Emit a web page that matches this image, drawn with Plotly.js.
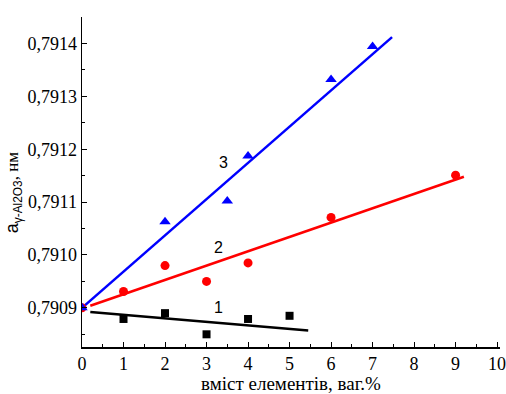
<!DOCTYPE html>
<html><head><meta charset="utf-8">
<script src="https://cdn.plot.ly/plotly-3.0.1.min.js"></script>
<style>html,body{margin:0;padding:0;background:#fff;}#chart{width:506px;height:394px;}</style>
</head><body><div id="chart"></div>
<script>
// Data points
const x1 = [1, 2, 3, 4, 5];
const y1 = [0.790879, 0.790890, 0.790850, 0.790879, 0.790885];
const x2 = [0, 1, 2, 3, 4, 6, 9];
const y2 = [0.79090, 0.790931, 0.790980, 0.790950, 0.790985, 0.791071, 0.791151];
const x3 = [0, 2, 3.5, 4, 6, 7];
const y3 = [0.79090, 0.791063, 0.791102, 0.791187, 0.791332, 0.791394];
// Fit lines (end points)
const fx1 = [0.2, 5.45], fy1 = [0.790892, 0.790857];
const fx2 = [0.2, 9.2],  fy2 = [0.790904, 0.791148];
const fx3 = [0, 7.47],   fy3 = [0.79090, 0.791412];
// Curve labels
const labX = [3.3, 3.3, 3.4];
const labY = [0.790900, 0.791014, 0.791175];
const labText = ['1', '2', '3'];

const SERIF = 'Liberation Serif';
const SANS = 'Liberation Sans';

const traces = [
  {x: fx1, y: fy1, mode: 'lines', line: {color: '#000000', width: 2.5}, hoverinfo: 'skip'},
  {x: fx2, y: fy2, mode: 'lines', line: {color: '#ff0000', width: 2.5}, hoverinfo: 'skip'},
  {x: fx3, y: fy3, mode: 'lines', line: {color: '#0000ff', width: 2.5}, hoverinfo: 'skip'},
  {x: x1, y: y1, mode: 'markers', marker: {symbol: 'square', size: 8, color: '#000000'}},
  {x: x2, y: y2, mode: 'markers', marker: {symbol: 'circle', size: 9, color: '#ff0000'}},
  {x: x3, y: y3, mode: 'markers', marker: {symbol: 'triangle-up', size: 10, color: '#0000ff'}}
];

const annotations = labText.map((t, i) => ({
  x: labX[i], y: labY[i], text: t, showarrow: false, xref: 'x', yref: 'y',
  font: {family: SANS, size: 16, color: '#000'}
}));

const layout = {
  width: 506, height: 394,
  margin: {l: 82, r: 6, t: 17, b: 47},
  showlegend: false,
  font: {family: SERIF, size: 18, color: '#000'},
  paper_bgcolor: '#fff', plot_bgcolor: '#fff',
  separators: ', ',
  annotations: annotations,
  xaxis: {
    range: [0, 10.07], showgrid: false, zeroline: false,
    showline: true, linecolor: '#000', linewidth: 1.5, mirror: false,
    tickmode: 'linear', tick0: 0, dtick: 1,
    ticks: 'inside', ticklen: 5, tickcolor: '#000', tickwidth: 1,
    ticklabeloverflow: 'allow', automargin: false,
    minor: {dtick: 0.5, ticks: 'inside', ticklen: 3, tickcolor: '#000', showgrid: false},
    tickfont: {family: SERIF, size: 18, color: '#000'},
    title: {text: 'вміст елементів, ваг.%', standoff: 11,
      font: {family: SERIF, size: 19, color: '#000'}}
  },
  yaxis: {
    range: [0.790826, 0.79145], showgrid: false, zeroline: false,
    showline: true, linecolor: '#000', linewidth: 1.5, mirror: false,
    tickmode: 'linear', tick0: 0.7909, dtick: 0.0001, tickformat: '.4f',
    ticks: 'inside', ticklen: 5, tickcolor: '#000', tickwidth: 1,
    minor: {dtick: 0.00005, ticks: 'inside', ticklen: 3, tickcolor: '#000', showgrid: false},
    tickfont: {family: SERIF, size: 18, color: '#000'},
    title: {text: '<span style="font-family:Liberation Sans;font-size:18px">a</span><sub><span style="font-family:Liberation Sans">γ-Al2O3</span></sub>, нм&nbsp;&nbsp;&nbsp;&nbsp;&nbsp;', standoff: 4,
      font: {family: SERIF, size: 17, color: '#000'}}
  }
};

Plotly.newPlot('chart', traces, layout, {staticPlot: true, displayModeBar: false});
</script></body></html>
